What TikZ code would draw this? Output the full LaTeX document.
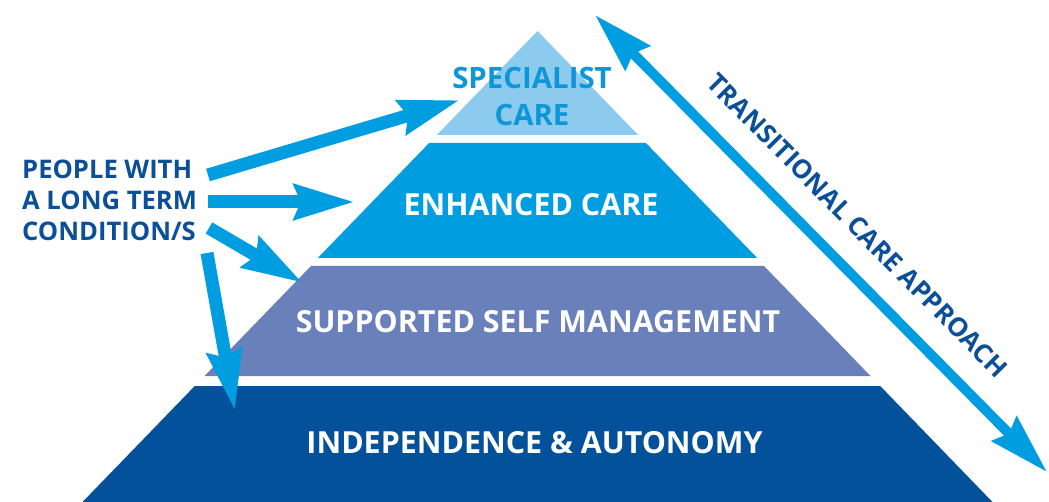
\documentclass[tikz,border=0pt]{standalone}
\usepackage{fontspec}
\setmainfont{Open Sans}
\usetikzlibrary{arrows.meta}

\definecolor{topblue}{HTML}{8DCBEE}
\definecolor{midblue}{HTML}{009EE0}
\definecolor{lilac}{HTML}{6980BA}
\definecolor{navy}{HTML}{03519B}
\definecolor{inkblue}{HTML}{0B4F99}
\definecolor{specblue}{HTML}{0F96D8}

\begin{document}
\begin{tikzpicture}[x=1pt, y=-1pt,
    >={Stealth[length=60pt, width=34pt, inset=6pt]},
    layer/.style={white, anchor=base, inner sep=0pt,
      font=\bfseries\fontsize{30.4}{30.4}\selectfont},
    fat/.style={->, midblue, line width=13pt}]
  \useasboundingbox (0,0) rectangle (1049,502);

  % the four layers of the pyramid
  \fill[topblue] (537.5,31) -- (638.2,135) -- (436.8,135) -- cycle;
  \fill[midblue] (429.1,143) -- (645.9,143) -- (757.2,258) -- (317.8,258) -- cycle;
  \fill[lilac]   (311,266) -- (764,266) -- (870.5,376) -- (204.5,376) -- cycle;
  \fill[navy]    (194.8,386) -- (880.2,386) -- (992.5,502) -- (82.5,502) -- cycle;

  \node[specblue, anchor=north, align=center, inner sep=0pt,
    font=\bfseries\fontsize{29.4}{37}\selectfont] (spec) at (532,67) {SPECIALIST\\CARE};
  \node[layer] (enh) at (531,216) {ENHANCED CARE};
  \node[layer] (ssm) at (538,333) {SUPPORTED SELF MANAGEMENT};
  \node[layer] (ind) at (534.5,453) {INDEPENDENCE \& AUTONOMY};

  \node[inkblue, anchor=north west, align=left, inner sep=0pt,
    font=\bfseries\fontsize{25.6}{31}\selectfont] (people) at (22,160)
    {PEOPLE WITH\\A LONG TERM\\CONDITION/S};

  % arrows from the people to the layers
  \coordinate (a1) at (208,175);
  \coordinate (a2) at (208,202);
  \coordinate (a3) at (209,228);
  \coordinate (a4) at (207,253);
  \coordinate (b1) at (460,100);
  \coordinate (b2) at (355,202);
  \coordinate (b3) at (303,283);
  \coordinate (b4) at (235,411);
  \draw[fat] (a1) -- (b1);
  \draw[fat] (a2) -- (b2);
  \draw[fat] (a3) -- (b3);
  \draw[fat] (a4) -- (b4);

  % transition along the right side
  \coordinate (up) at (595,15);
  \coordinate (down) at (1047,472);
  \draw[<->, midblue, line width=10pt] (up) -- (down)
    node[pos=0.52, sloped, above=24pt, inner sep=0pt, inkblue,
      font=\bfseries\fontsize{26}{26}\selectfont] (trans) {TRANSITIONAL CARE APPROACH};
\end{tikzpicture}
\end{document}
